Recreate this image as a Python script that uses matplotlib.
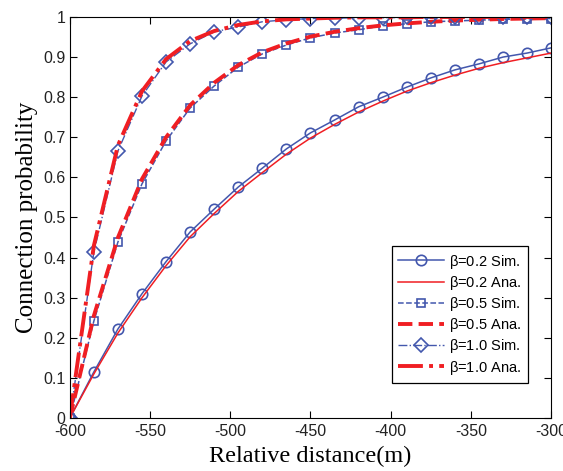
import numpy as np
import matplotlib
matplotlib.use('Agg')
import matplotlib.pyplot as plt

plt.rcParams['axes.unicode_minus'] = False

# relative distance grid (m)
distance = [-600, -585, -570, -555, -540, -525, -510, -495, -480, -465, -450,
            -435, -420, -405, -390, -375, -360, -345, -330, -315, -300]

# beta = 0.2
sim_02 = [0.0, 0.115, 0.222, 0.310, 0.390, 0.464, 0.521, 0.576, 0.623, 0.671, 0.711,
          0.743, 0.776, 0.800, 0.825, 0.848, 0.868, 0.883, 0.900, 0.910, 0.923]
ana_02 = [0.0, 0.110, 0.212, 0.300, 0.380, 0.452, 0.510, 0.565, 0.612, 0.658, 0.698,
          0.732, 0.763, 0.790, 0.815, 0.836, 0.855, 0.872, 0.886, 0.898, 0.910]

# beta = 0.5
sim_05 = [0.0, 0.242, 0.439, 0.584, 0.691, 0.773, 0.828, 0.875, 0.908, 0.930, 0.948,
          0.960, 0.968, 0.978, 0.983, 0.988, 0.990, 0.992, 0.994, 0.995, 0.996]
ana_05 = [0.0, 0.255, 0.450, 0.596, 0.700, 0.780, 0.836, 0.880, 0.912, 0.934, 0.951,
          0.963, 0.972, 0.979, 0.984, 0.988, 0.991, 0.993, 0.995, 0.996, 0.997]

# beta = 1.0
sim_10 = [0.0, 0.414, 0.666, 0.803, 0.888, 0.933, 0.963, 0.975, 0.988, 0.993, 0.996,
          0.997, 0.998, 0.998, 0.999, 0.999, 0.999, 0.999, 1.0, 1.0, 1.0]
ana_10 = [0.0, 0.430, 0.680, 0.815, 0.895, 0.940, 0.965, 0.980, 0.989, 0.994, 0.996,
          0.998, 0.999, 0.999, 0.999, 1.0, 1.0, 1.0, 1.0, 1.0, 1.0]

yticklabels = ['0', '0.1', '0.2', '0.3', '0.4', '0.5', '0.6', '0.7', '0.8', '0.9', '1']

blue = '#4357ad'
red = '#f01e23'

fig = plt.figure(figsize=(5.63, 4.71), dpi=100)
ax = fig.add_axes([0.124, 0.1125, 0.855, 0.8515])

ax.plot(distance, sim_02, '-', color=blue, lw=1.1, marker='o', ms=7.5,
        mfc='none', mec=blue, mew=1.2, label=r'$\mathregular{\beta}$=0.2 Sim.')
ax.plot(distance, ana_02, '-', color=red, lw=1.1, label=r'$\mathregular{\beta}$=0.2 Ana.')
ax.plot(distance, sim_05, '--', color=blue, lw=1.1, marker='s', ms=6,
        mfc='none', mec=blue, mew=1.2, label=r'$\mathregular{\beta}$=0.5 Sim.')
ax.plot(distance, ana_05, '--', color=red, lw=2.8, label=r'$\mathregular{\beta}$=0.5 Ana.')
ax.plot(distance, sim_10, '-.', color=blue, lw=1.0, marker='D', ms=7.5,
        mfc='none', mec=blue, mew=1.2, label=r'$\mathregular{\beta}$=1.0 Sim.')
ax.plot(distance, ana_10, '-.', color=red, lw=2.8, label=r'$\mathregular{\beta}$=1.0 Ana.')

ax.set_xlim(-600, -300)
ax.set_ylim(0, 1)
ax.set_xticks(np.arange(-600, -299, 50))
ax.set_yticks(np.arange(0, 1.01, 0.1))
ax.set_yticklabels(yticklabels)
ax.tick_params(direction='in', top=True, right=True, labelsize=11.5, length=5, pad=3)
ax.tick_params(axis='x', pad=4)
for lab in ax.get_xticklabels() + ax.get_yticklabels():
    lab.set_family('Liberation Sans')
    lab.set_color('#222222')

ax.set_xlabel('Relative distance(m)', family='Liberation Serif', fontsize=17.5, labelpad=5)
ax.set_ylabel('Connection probability', family='Liberation Serif', fontsize=18, labelpad=4)

leg = ax.legend(loc='lower right', bbox_to_anchor=(0.952, 0.087), borderaxespad=0,
                prop={'family': 'Liberation Sans', 'size': 10.5},
                frameon=True, fancybox=False, edgecolor='black', handlelength=3.1,
                labelspacing=0.22, handletextpad=0.4, borderpad=0.45, framealpha=1)
leg.get_frame().set_linewidth(0.9)

fig.savefig('out.png', dpi=100)
